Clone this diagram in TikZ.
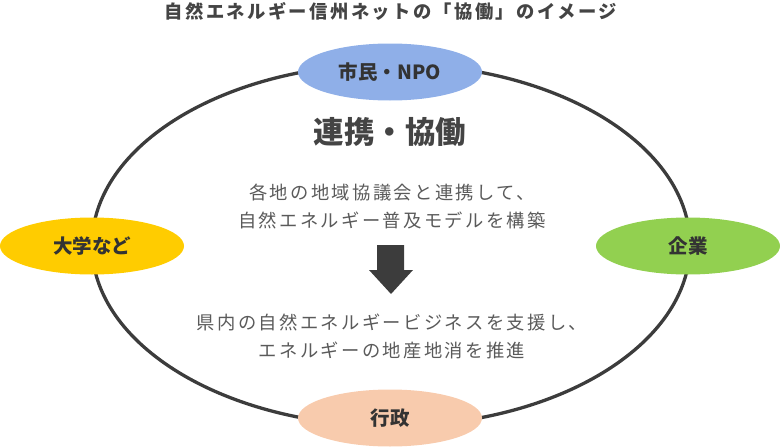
\documentclass[tikz,border=0pt]{standalone}
\usepackage{fontspec}
\setmainfont{Noto Sans CJK JP}
\newfontfamily\titlefont{Noto Sans CJK JP}[LetterSpace=13]
\newfontfamily\bodyfont{Noto Sans CJK JP}[LetterSpace=13]
\usetikzlibrary{shapes.geometric}
\definecolor{ringgray}{HTML}{3C3C3C}
\definecolor{citizenblue}{HTML}{8FAFE8}
\definecolor{univyellow}{HTML}{FFCC00}
\definecolor{firmgreen}{HTML}{92D050}
\definecolor{govpeach}{HTML}{F8CBAD}
\definecolor{labeldark}{HTML}{333333}
\definecolor{bodygray}{HTML}{5A5A5A}
\definecolor{titlegray}{HTML}{444444}
\tikzset{
  actor/.style={ellipse,minimum width=184pt,minimum height=57pt,inner sep=0pt,
    text=labeldark,font=\fontsize{19.5}{22}\selectfont\bfseries},
  bodytext/.style={align=center,text=bodygray,inner sep=0pt,
    font=\bodyfont\fontsize{18.3}{28}\selectfont}
}

\begin{document}
\begin{tikzpicture}[x=1pt,y=-1pt]
		\useasboundingbox (0,0) rectangle (780,447);
		\node[text=titlegray,font=\titlefont\fontsize{18.3}{20}\selectfont\bfseries] (title) at (391,11) {自然エネルギー信州ネットの「協働」のイメージ};
		\draw[ringgray,line width=3.3pt] (391,245) ellipse [x radius=299,y radius=181];
		\node[actor,fill=citizenblue] (citizen) at (390,72) {市民・NPO};
		\node[actor,fill=univyellow] (univ) at (92,246) {大学など};
		\node[actor,fill=firmgreen] (firm) at (688,246) {企業};
		\node[actor,fill=govpeach] (gov) at (390,418) {行政};
		\node[text=titlegray,font=\fontsize{30.5}{32}\selectfont\bfseries] (coop) at (390,132) {連携・協働};
		\node[bodytext] (model) at (392,206.5) {各地の地域協議会と連携して、\\自然エネルギー普及モデルを構築};
		\fill[ringgray] (377,245) -- (404,245) -- (404,270) -- (413,270) -- (391,294) -- (369,270) -- (377,270) -- cycle;
		\node[bodytext] (business) at (392,336) {県内の自然エネルギービジネスを支援し、\\エネルギーの地産地消を推進};
		\end{tikzpicture}
\end{document}
